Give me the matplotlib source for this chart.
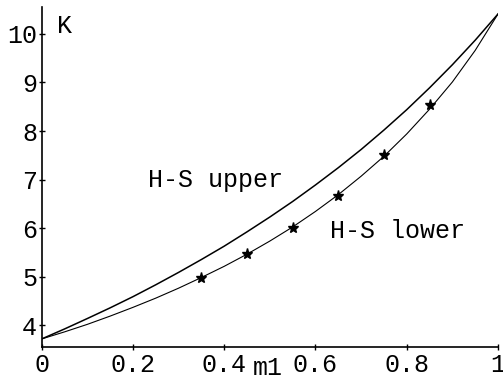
import numpy as np
import matplotlib.pyplot as plt

# volume fraction m1 and the two Hashin-Shtrikman bounds on K
m1 = [0.0, 0.05, 0.10, 0.15, 0.20, 0.25, 0.30, 0.35, 0.40, 0.45, 0.50,
      0.55, 0.60, 0.65, 0.70, 0.75, 0.80, 0.85, 0.90, 0.95, 1.0]
k_upper = [3.72, 3.925, 4.14, 4.36, 4.59, 4.835, 5.09, 5.355, 5.63, 5.925, 6.23,
           6.55, 6.89, 7.245, 7.62, 8.02, 8.44, 8.89, 9.365, 9.87, 10.41]
k_lower = [3.72, 3.865, 4.02, 4.19, 4.37, 4.56, 4.765, 4.985, 5.215, 5.465, 5.735,
           6.025, 6.345, 6.69, 7.07, 7.48, 7.94, 8.45, 9.01, 9.66, 10.41]

# measured points
m1_pts = [0.35, 0.45, 0.55, 0.65, 0.75, 0.85]
k_pts = [4.98, 5.46, 6.01, 6.66, 7.50, 8.53]

xticks = [0, 0.2, 0.4, 0.6, 0.8, 1]
xlabels = ["0", "0.2", "0.4", "0.6", "0.8", "1"]
yticks = [4, 5, 6, 7, 8, 9, 10]

font = "Liberation Mono"
fs = 18

fig = plt.figure(figsize=(5.03, 3.77), dpi=100)
ax = fig.add_axes([41.7 / 503, 30.3 / 377, 456.3 / 503, 340 / 377])

ax.plot(m1, k_upper, color="black", lw=1.1)
ax.plot(m1, k_lower, color="black", lw=0.8)
ax.plot(m1_pts, k_pts, linestyle="none", marker="*", color="black", ms=8)

ax.set_xlim(0, 1)
ax.set_ylim(3.56, 10.56)

for s in ["top", "right"]:
    ax.spines[s].set_visible(False)
for s in ["left", "bottom"]:
    ax.spines[s].set_linewidth(1.2)

ax.set_xticks(xticks)
ax.set_xticklabels(xlabels)
ax.set_yticks(yticks)
ax.tick_params(direction="inout", length=4.5, width=1, pad=2)
ax.tick_params(axis="y", pad=1)
for lab in ax.get_xticklabels() + ax.get_yticklabels():
    lab.set_fontfamily(font)
    lab.set_fontsize(fs)

ax.text(0.033, 10.01, "K", family=font, fontsize=fs, va="baseline")
ax.text(0.463, 2.97, "m1", family=font, fontsize=fs, va="baseline", clip_on=False)
ax.text(0.232, 6.84, "H-S upper", family=font, fontsize=fs, va="baseline")
ax.text(0.632, 5.80, "H-S lower", family=font, fontsize=fs, va="baseline")

fig.savefig("out.png", dpi=100)
